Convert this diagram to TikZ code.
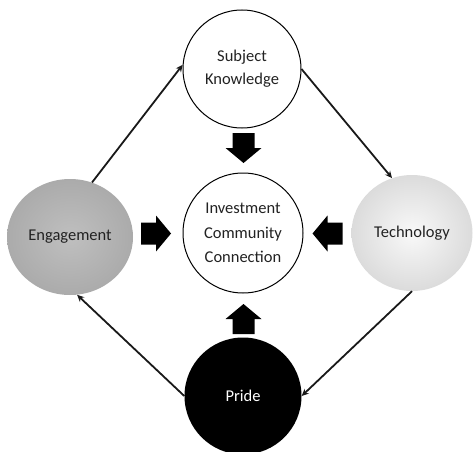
\documentclass[tikz,border=0pt]{standalone}
\usepackage{fontspec}
\setmainfont{Carlito}
\usetikzlibrary{shapes.geometric,arrows.meta}
\definecolor{txt}{HTML}{222222}
\tikzset{
  circ/.style={circle, draw=black, line width=1pt, fill=white, inner sep=0pt, align=center, text=txt,
    font=\fontsize{16.5}{23}\selectfont},
  conn/.style={line width=1.8pt, color=black!90, -{Stealth[length=7pt,width=6.5pt]}},
  blockarrow/.pic={\fill[black] (-15,-11) -- (0,-11) -- (0,-18) -- (15,0) -- (0,18) -- (0,11) -- (-15,11) -- cycle;}
}
\begin{document}
\begin{tikzpicture}[x=1pt,y=-1pt]
\useasboundingbox (0,0) rectangle (474,452);
\node[circ, minimum size=118pt] (sk) at (242,69) {Subject\\Knowledge};
\node[circ, minimum size=120pt, font=\fontsize{16.5}{24.5}\selectfont] (c) at (243,233) {Investment\\Community\\Connection};
\node[ellipse, minimum width=126pt, minimum height=116pt, inner sep=0pt, shading=radial, inner color=gray!50, outer color=gray!66, text=txt, font=\fontsize{16.5}{23}\selectfont] (e) at (70,237) {Engagement};
\node[ellipse, minimum width=121pt, minimum height=116pt, inner sep=0pt, shading=radial, inner color=gray!5, outer color=gray!28, text=txt, font=\fontsize{16.5}{23}\selectfont] (t) at (412,233) {Technology};
\node[circle, fill=black, minimum size=117pt, inner sep=0pt, text=white, font=\fontsize{16.5}{23}\selectfont] (p) at (243,396) {Pride};
\pic[rotate=-90] at (243.5,148) {blockarrow};
\pic at (156,233.5) {blockarrow};
\pic[rotate=180] at (327.5,233.5) {blockarrow};
\pic[rotate=90] at (243.5,319) {blockarrow};
\draw[conn] (e.68) -- (sk.176);
\draw[conn] (sk.0) -- (t.110);
\draw[conn] (t.270) -- (p.0);
\draw[conn] (p.180) -- (e.277);
\end{tikzpicture}
\end{document}
